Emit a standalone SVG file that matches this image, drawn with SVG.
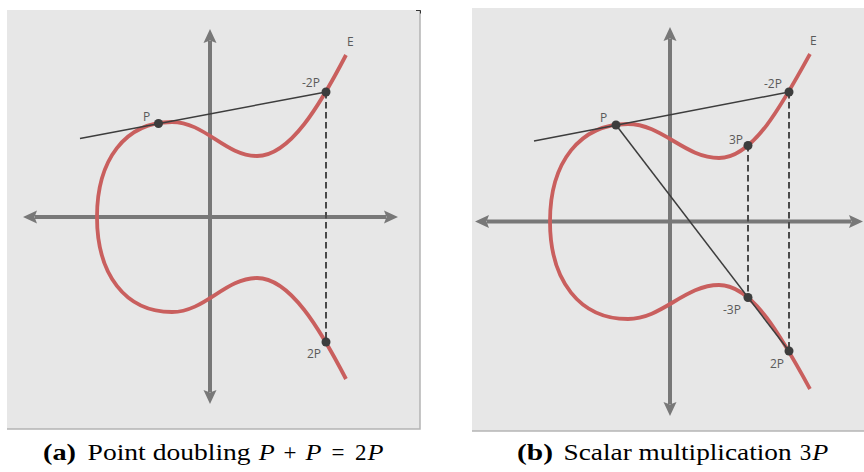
<svg xmlns="http://www.w3.org/2000/svg" width="864" height="472" viewBox="0 0 864 472">
<style>
.bg{fill:#e7e7e7}
.edge{stroke:#b4b4b4;stroke-width:1.5;fill:none}
.axis{stroke:#787878;stroke-width:4;fill:none}
.curve{stroke:#c95f5e;stroke-width:3.8;fill:none;stroke-linecap:butt}
.line{stroke:#3d3d3d;stroke-width:1.5;fill:none}
.dash{stroke:#4a4a4a;stroke-width:2;stroke-dasharray:6.5 3.5;fill:none}
.dot{fill:#3d3d3d}
.lbl{font-family:"Open Sans","DejaVu Sans",sans-serif;font-size:12px;fill:#5a5a5a}
.cap{font-family:"Liberation Serif",serif;font-size:23px;fill:#000}
.b{font-weight:bold}
.i{font-style:italic}
</style>
<defs>
<marker id="ah" markerUnits="userSpaceOnUse" markerWidth="16" markerHeight="16" viewBox="-1 -8 16 16" refX="2" refY="0" orient="auto-start-reverse">
<path d="M0,-6.5 L14,0 L0,6.5 L2.5,0 Z" fill="#787878"/>
</marker>
</defs>

<g id="panel-a">
<rect class="bg" x="7" y="10" width="413" height="419"/>
<path class="edge" d="M420,10 V429 H7"/>
<path d="M416,10.5 H420.5 V13.5" stroke="#333" stroke-width="1" fill="none"/>
<g id="axes-a">
<line class="axis" x1="210" y1="392" x2="210" y2="41" marker-start="url(#ah)" marker-end="url(#ah)"/>
<line class="axis" x1="35" y1="217" x2="386" y2="217" marker-start="url(#ah)" marker-end="url(#ah)"/>
</g>
<g id="curve-a">
<path class="curve" d="M346,55 C320,105 290,156 257,156 C225,156 205,122 172,122 C125,122 97,160 97,217 C97,274 125,312 172,312 C205,312 225,278 257,278 C290,278 320,329 346,379"/>
<text class="lbl" x="347" y="46">E</text>
</g>
<g id="connectors-a">
<line class="line" x1="80" y1="138.5" x2="326" y2="92"/>
<line class="dash" x1="326" y1="92" x2="326" y2="342"/>
</g>
<g id="node-a-P">
<circle class="dot" cx="158.5" cy="123.5" r="4.5"/>
<text class="lbl" x="143" y="121">P</text>
</g>
<g id="node-a-m2P">
<circle class="dot" cx="326" cy="92" r="4.5"/>
<text class="lbl" x="302" y="87">-2P</text>
</g>
<g id="node-a-2P">
<circle class="dot" cx="326" cy="342" r="4.5"/>
<text class="lbl" x="307" y="358">2P</text>
</g>
<g id="caption-a">
<text class="cap b" x="43" y="460" textLength="33" lengthAdjust="spacingAndGlyphs">(a)</text>
<text class="cap" x="87.6" y="460" textLength="163" lengthAdjust="spacingAndGlyphs">Point doubling</text>
<text class="cap i" x="258.8" y="460" textLength="16" lengthAdjust="spacingAndGlyphs">P</text>
<text class="cap" x="290" y="460" text-anchor="middle">+</text>
<text class="cap i" x="305.4" y="460" textLength="16" lengthAdjust="spacingAndGlyphs">P</text>
<text class="cap" x="338" y="460" text-anchor="middle">=</text>
<text class="cap" x="354.9" y="460">2</text>
<text class="cap i" x="367.4" y="460" textLength="16" lengthAdjust="spacingAndGlyphs">P</text>
</g>
</g>

<g id="panel-b">
<rect class="bg" x="472" y="8" width="392" height="423"/>
<path class="edge" d="M864,431 H472"/>
<g id="axes-b">
<line class="axis" x1="670" y1="404" x2="670" y2="39" marker-start="url(#ah)" marker-end="url(#ah)"/>
<line class="axis" x1="487" y1="221.5" x2="851" y2="221.5" marker-start="url(#ah)" marker-end="url(#ah)"/>
</g>
<g id="curve-b">
<path class="curve" d="M810,54 C782,105 753,158 719,158 C685,158 662,124 628,124 C580,124 550,162 550,221.5 C550,281 580,319 628,319 C662,319 685,285 719,285 C753,285 782,338 810,389"/>
<text class="lbl" x="810" y="45">E</text>
</g>
<g id="connectors-b">
<line class="line" x1="534" y1="141" x2="789" y2="92"/>
<line class="line" x1="616" y1="125" x2="789" y2="351"/>
<line class="dash" x1="748" y1="145" x2="748" y2="298"/>
<line class="dash" x1="789" y1="92" x2="789" y2="351"/>
</g>
<g id="node-b-P">
<circle class="dot" cx="616" cy="125" r="4.5"/>
<text class="lbl" x="600" y="122">P</text>
</g>
<g id="node-b-m2P">
<circle class="dot" cx="789" cy="92" r="4.5"/>
<text class="lbl" x="764" y="88">-2P</text>
</g>
<g id="node-b-3P">
<circle class="dot" cx="748" cy="145.5" r="4.5"/>
<text class="lbl" x="729" y="144">3P</text>
</g>
<g id="node-b-m3P">
<circle class="dot" cx="748" cy="297.5" r="4.5"/>
<text class="lbl" x="723" y="314">-3P</text>
</g>
<g id="node-b-2P">
<circle class="dot" cx="789" cy="351" r="4.5"/>
<text class="lbl" x="770" y="368">2P</text>
</g>
<g id="caption-b">
<text class="cap b" x="517" y="460" textLength="36" lengthAdjust="spacingAndGlyphs">(b)</text>
<text class="cap" x="563.6" y="460" textLength="228" lengthAdjust="spacingAndGlyphs">Scalar multiplication</text>
<text class="cap" x="799.8" y="460">3</text>
<text class="cap i" x="812.3" y="460" textLength="16" lengthAdjust="spacingAndGlyphs">P</text>
</g>
</g>
</svg>
